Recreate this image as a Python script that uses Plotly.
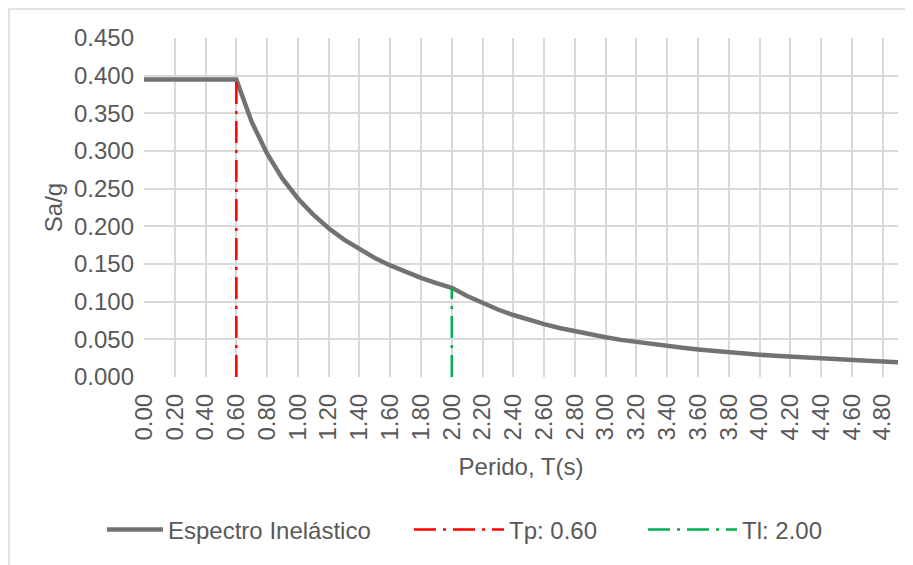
import plotly.graph_objects as go

# Period values (s) and spectral acceleration Sa/g
T = [0.0, 0.1, 0.2, 0.3, 0.4, 0.5, 0.6, 0.7, 0.8, 0.9,
     1.0, 1.1, 1.2, 1.3, 1.4, 1.5, 1.6, 1.7, 1.8, 1.9,
     2.0, 2.1, 2.2, 2.3, 2.4, 2.5, 2.6, 2.7, 2.8, 2.9,
     3.0, 3.1, 3.2, 3.3, 3.4, 3.5, 3.6, 3.7, 3.8, 3.9,
     4.0, 4.1, 4.2, 4.3, 4.4, 4.5, 4.6, 4.7, 4.8, 4.9]
Sa = [0.395, 0.395, 0.395, 0.395, 0.395, 0.395, 0.395, 0.3386, 0.2963, 0.2633,
      0.2370, 0.2155, 0.1975, 0.1823, 0.1693, 0.1580, 0.1481, 0.1394, 0.1317, 0.1247,
      0.1185, 0.1075, 0.0979, 0.0896, 0.0823, 0.0758, 0.0701, 0.0650, 0.0605, 0.0564,
      0.0527, 0.0493, 0.0463, 0.0435, 0.0410, 0.0387, 0.0366, 0.0346, 0.0328, 0.0312,
      0.0296, 0.0282, 0.0269, 0.0256, 0.0245, 0.0234, 0.0224, 0.0215, 0.0206, 0.0197]

Tp_x = [0.6, 0.6]
Tp_y = [0.0, 0.395]
Tl_x = [2.0, 2.0]
Tl_y = [0.0, 0.1185]

FONT = "Liberation Sans, Arial, sans-serif"
TXT = "#595959"
GRID = "#D9D9D9"
DASH = "22px,7px,3px,7px"
FS = 24

fig = go.Figure()
fig.add_trace(go.Scatter(x=T, y=Sa, mode="lines", name="Espectro Inelástico",
                         line=dict(color="#767171", width=4.5), legend="legend"))
fig.add_trace(go.Scatter(x=Tp_x, y=Tp_y, mode="lines", name="Tp: 0.60",
                         line=dict(color="#FF0000", width=2.5, dash=DASH), legend="legend2"))
fig.add_trace(go.Scatter(x=Tl_x, y=Tl_y, mode="lines", name="Tl: 2.00",
                         line=dict(color="#00B050", width=2.5, dash=DASH), legend="legend3"))

# page is offset by the 8px body margin; work in figure pixel coordinates
OFF = 8
PL, PR = 144 - OFF, 898 - OFF
PT, PB = 38 - OFF, 377 - OFF
PW, PH = PR - PL, PB - PT
def px(x):
    return (x - OFF - PL) / PW
def py(y):
    return (PB - (y - OFF)) / PH

leg_common = dict(orientation="h", yanchor="middle", xanchor="left",
                  font=dict(family=FONT, size=FS, color=TXT),
                  bgcolor="rgba(0,0,0,0)")

fig.update_layout(
    width=913, height=565,
    margin=dict(l=PL, r=913 - PR, t=PT, b=565 - PB),
    paper_bgcolor="white", plot_bgcolor="white",
    font=dict(family=FONT, size=FS, color=TXT),
    showlegend=True,
    legend=dict(x=px(107 - 5), y=py(530), itemwidth=56, **leg_common),
    legend2=dict(x=px(414 - 5), y=py(530), itemwidth=90, **leg_common),
    legend3=dict(x=px(648 - 5), y=py(530), itemwidth=89, **leg_common),
    xaxis=dict(range=[0, 4.9], dtick=0.2, tick0=0, tickformat=".2f", tickangle=-90,
               showgrid=True, gridcolor=GRID, gridwidth=1.8, zeroline=False,
               showline=False, ticks="", ticklabelstandoff=11,
               tickfont=dict(family=FONT, size=FS, color=TXT),
               title=dict(text="Perido, T(s)", font=dict(family=FONT, size=FS, color=TXT), standoff=18)),
    yaxis=dict(range=[0, 0.45], dtick=0.05, tick0=0, tickformat=".3f",
               showgrid=True, gridcolor=GRID, gridwidth=1.8, zeroline=False,
               showline=False, ticks="", ticklabelstandoff=9,
               tickfont=dict(family=FONT, size=FS, color=TXT),
               title=dict(text="Sa/g", font=dict(family=FONT, size=FS, color=TXT), standoff=4)),
    shapes=[dict(type="rect", xref="paper", yref="paper",
                 x0=px(9), x1=px(930), y0=py(9), y1=py(590),
                 line=dict(color=GRID, width=1.5), fillcolor="rgba(0,0,0,0)", layer="below")],
)

fig.write_html("out.html")
